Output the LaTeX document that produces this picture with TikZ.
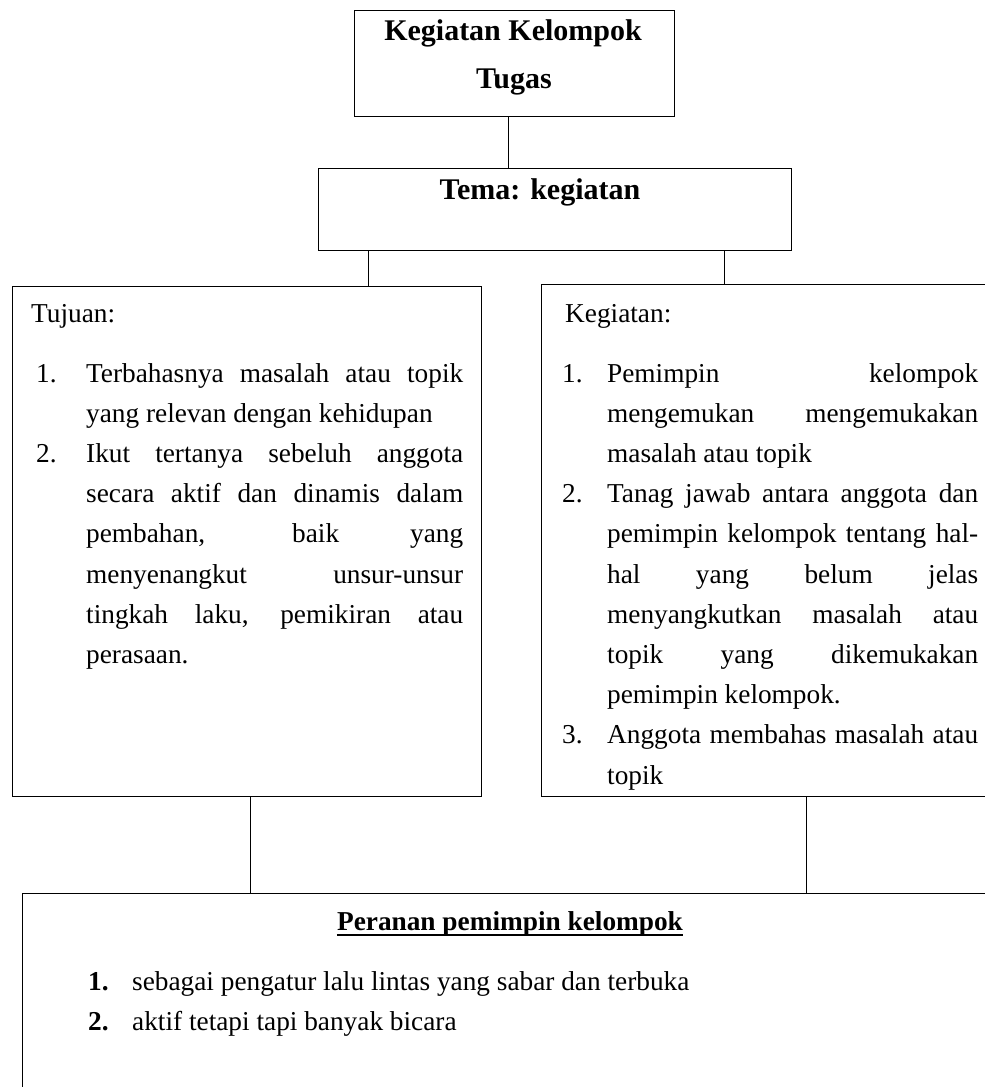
\documentclass[tikz,border=0pt]{standalone}
\usepackage{fontspec}
\setmainfont{Liberation Serif}

% numbered paragraph with hanging indent: {number}{indent}{text}
\newcommand{\numpar}[3]{\par\hangindent=#2\hangafter=1\noindent\makebox[#2][l]{#1}#3\par}
\newcommand{\listsetup}{\parindent=0pt\parskip=0pt\tolerance=10000\hyphenpenalty=10000\hbadness=10000}

\begin{document}
\begin{tikzpicture}[x=1pt,y=-1pt,
  box/.style={draw, line width=1.3pt, inner sep=0pt, anchor=north west},
  link/.style={line width=1pt},
  body/.style={inner sep=0pt, anchor=base west, font=\fontsize{27.3}{40.2}\selectfont},
  bodybold/.style={inner sep=0pt, anchor=base west, font=\fontsize{27.3}{40.2}\selectfont\bfseries},
  head/.style={inner sep=0pt, anchor=base, font=\fontsize{30}{40}\selectfont\bfseries}]
\useasboundingbox (0,0) rectangle (985,1087);
\clip (0,0) rectangle (985,1087);

% boxes
\node[box, minimum width=320pt, minimum height=106pt] (top) at (354,10) {};
\node[box, minimum width=473pt, minimum height=82pt] (tema) at (318,168) {};
\node[box, minimum width=469pt, minimum height=510pt] (tuj) at (12,286) {};
\node[box, minimum width=480pt, minimum height=512pt] (keg) at (541,284) {};
\node[box, minimum width=1000pt, minimum height=250pt] (peran) at (22,893) {};

% connector positions
\coordinate (c0) at (508,0);
\coordinate (c1) at (368,0);
\coordinate (c2) at (724,0);
\coordinate (c3) at (250,0);
\coordinate (c4) at (806,0);

\draw[link] (top.south -| c0) -- (tema.north -| c0);
\draw[link] (tema.south -| c1) -- (tuj.north -| c1);
\draw[link] (tema.south -| c2) -- (keg.north -| c2);
\draw[link] (tuj.south -| c3) -- (peran.north -| c3);
\draw[link] (keg.south -| c4) -- (peran.north -| c4);

% headings
\node[head] (t1) at (513,40) {Kegiatan Kelompok};
\node[head] (t2) at (514,88) {Tugas};
\node[head] (t3) at (540,199) {Tema: kegiatan};

% left box
\node[body] (tujh) at (31,322) {Tujuan:};
\node[body] (tujl) at (36,382) {\parbox[t]{427pt}{\listsetup
  \numpar{1.}{50pt}{Terbahasnya masalah atau topik\linebreak yang relevan dengan kehidupan}
  \numpar{2.}{50pt}{Ikut tertanya sebeluh anggota\linebreak secara aktif dan dinamis dalam\linebreak pembahan, baik yang\linebreak menyenangkut unsur-unsur\linebreak tingkah laku, pemikiran atau\linebreak perasaan.}}};

% right box
\node[body] (kegh) at (565,322) {Kegiatan:};
\node[body] (kegl) at (562,382) {\parbox[t]{416pt}{\listsetup
  \numpar{1.}{45pt}{Pemimpin kelompok\linebreak mengemukan mengemukakan\linebreak masalah atau topik}
  \numpar{2.}{45pt}{Tanag jawab antara anggota dan\linebreak pemimpin kelompok tentang hal-\linebreak hal yang belum jelas\linebreak menyangkutkan masalah atau\linebreak topik yang dikemukakan\linebreak pemimpin kelompok.}
  \numpar{3.}{45pt}{Anggota membahas masalah atau\linebreak topik}}};

% bottom box
\node[bodybold, anchor=base] (ptitle) at (510,930) {Peranan pemimpin kelompok};
\draw[line width=1.5pt] ([yshift=-5pt]ptitle.base west) -- ([yshift=-5pt]ptitle.base east);
\node[bodybold] (n1) at (88,990) {1.};
\node[body] (p1) at (132,990) {sebagai pengatur lalu lintas yang sabar dan terbuka};
\node[bodybold] (n2) at (88,1030) {2.};
\node[body] (p2) at (132,1030) {aktif tetapi tapi banyak bicara};
\end{tikzpicture}
\end{document}
